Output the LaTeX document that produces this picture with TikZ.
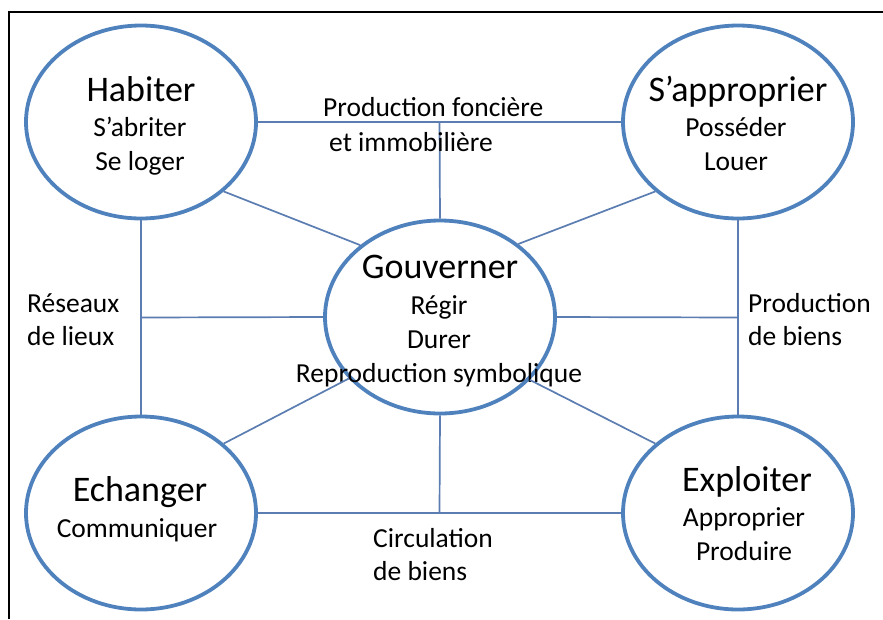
\documentclass[tikz,border=0pt]{standalone}
\usepackage{fontspec}
\setmainfont{Carlito}
\usetikzlibrary{shapes.geometric,positioning}
\definecolor{elBlue}{HTML}{4F81BD}
\definecolor{lnBlue}{HTML}{5B7DB1}

\begin{document}
\begin{tikzpicture}[x=1pt, y=-1pt,
  act/.style={ellipse, draw=elBlue, line width=3.8pt, minimum width=230pt, minimum height=193pt, inner sep=0pt},
  lnk/.style={draw=lnBlue, line width=1.7pt},
  ttl/.style={font=\fontsize{36}{40}\selectfont, inner sep=0pt, anchor=base},
  sub/.style={font=\fontsize{27.5}{34}\selectfont, align=center, inner sep=0pt, anchor=base},
  lbl/.style={font=\fontsize{27.5}{33}\selectfont, align=left, inner sep=0pt, anchor=base west}]
\useasboundingbox (0,0) rectangle (883,619);
\draw[line width=1.8pt] (9,619) -- (9,12) -- (883,12);

% the five activities
\node[act] (hab) at (141,122) {};
\node[act] (app) at (738,122) {};
\node[act] (gov) at (440,317) {};
\node[act] (ech) at (141,513) {};
\node[act] (exp) at (738,513) {};

\node[ttl] (habT) at (141,101) {Habiter};
\node[sub] (habS) at (140,170) {S’abriter\\Se loger};
\node[ttl] (appT) at (738,101) {S’approprier};
\node[sub] (appS) at (736,170) {Posséder\\Louer};
\node[ttl] (govT) at (440,278) {Gouverner};
\node[sub] (govS) at (439,382) {Régir\\Durer\\Reproduction symbolique};
\node[ttl] (echT) at (140,501) {Echanger};
\node[sub] (echS) at (137,537) {Communiquer};
\node[ttl] (expT) at (747,491) {Exploiter};
\node[sub] (expS) at (744,560) {Approprier\\Produire};

% links
\draw[lnk] (hab.east) -- coordinate[pos=0.5] (fon) (app.west);
\draw[lnk] (fon) -- (gov.north);
\draw[lnk] (hab.south) -- coordinate[pos=0.5] (res) (ech.north);
\draw[lnk] (res) -- (gov.west);
\draw[lnk] (app.south) -- coordinate[pos=0.5] (bie) (exp.north);
\draw[lnk] (bie) -- (gov.east);
\draw[lnk] (ech.east) -- coordinate[pos=0.5] (cir) (exp.west);
\draw[lnk] (cir) -- (gov.south);
\foreach \a/\b in {hab.-40/gov.138, app.-140/gov.43, ech.40/gov.-146, exp.140/gov.-35}{\draw[lnk] (\a) -- (\b);}

% link labels
\node[lbl] (fonL) at (323,151) {Production foncière\\[2pt]\hspace*{6pt}et immobilière};
\node[lbl] (resL) at (27,345) {Réseaux\\de lieux};
\node[lbl] (bieL) at (748,345) {Production\\de biens};
\node[lbl] (cirL) at (373,580) {Circulation\\de biens};
\end{tikzpicture}
\end{document}
